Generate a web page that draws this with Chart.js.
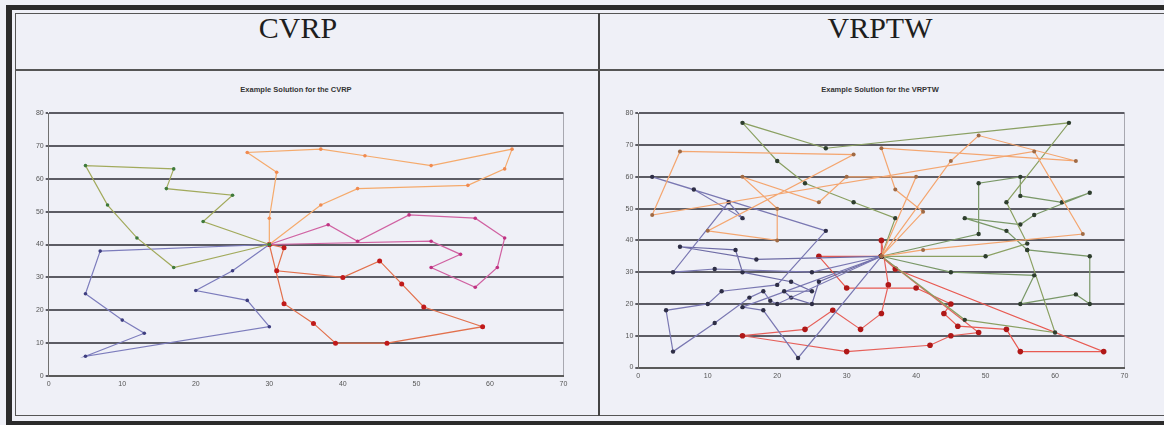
<!DOCTYPE html>
<html>
<head>
<meta charset="utf-8">
<script src="https://cdn.jsdelivr.net/npm/chart.js@4.4.1/dist/chart.umd.min.js"></script>
<style>
  html, body { margin: 0; padding: 0; }
  body { width: 1164px; height: 425px; background: #eff0f7; position: relative; overflow: hidden; }
  .line { position: absolute; background: #2b2b2b; }
  .head { position: absolute; font-family: 'Liberation Serif', serif; font-size: 30px; color: #1e1e1e; text-align: center; line-height: 30px; }
  .ctitle { position: absolute; font-family: 'Liberation Sans', Arial, sans-serif; font-weight: bold; font-size: 7.5px; color: #333; text-align: center; }
  canvas { position: absolute; }
</style>
</head>
<body>
<!-- table frame -->
<div class="line" style="left:6px; top:5px; width:1158px; height:5px;"></div>
<div class="line" style="left:15px; top:13px; width:1149px; height:1px; background:#555;"></div>
<div class="line" style="left:6px; top:5px; width:6px; height:420px;"></div>
<div class="line" style="left:15px; top:13px; width:1px; height:403px; background:#555;"></div>
<div class="line" style="left:15px; top:415px; width:1149px; height:1px; background:#555;"></div>
<div class="line" style="left:6px; top:421px; width:1158px; height:4px;"></div>
<div class="line" style="left:598px; top:13px; width:2px; height:403px; background:#444;"></div>
<div class="line" style="left:15px; top:69px; width:1149px; height:2px; background:#555;"></div>

<div class="head" style="left:200px; top:13px; width:196px;">CVRP</div>
<div class="head" style="left:780px; top:13px; width:200px;">VRPTW</div>
<div class="ctitle" style="left:196px; top:85px; width:200px;">Example Solution for the CVRP</div>
<div class="ctitle" style="left:780px; top:85px; width:200px;">Example Solution for the VRPTW</div>

<canvas id="cvrpChart" width="582" height="342" style="left:16px; top:72px;"></canvas>
<canvas id="vrptwChart" width="564" height="342" style="left:600px; top:72px;"></canvas>

<script>
// axis ticks
const yTicks = [0, 10, 20, 30, 40, 50, 60, 70, 80];
const xTicks = [0, 10, 20, 30, 40, 50, 60, 70];

// CVRP routes (depot at 30,40)
const cvrpGreen = [[30,40],[21,47],[25,55],[16,57],[17,63],[5,64],[8,52],[12,42],[17,33],[30,40]];
const cvrpBlue = [[30,40],[7,38],[5,25],[10,17],[13,13],[5,6],[30,15],[27,23],[20,26],[25,32],[30,40]];
const cvrpOrange = [[30,40],[30,48],[31,62],[27,68],[37,69],[43,67],[52,64],[63,69],[62,63],[57,58],[42,57],[37,52],[30,40]];
const cvrpPink = [[30,40],[38,46],[42,41],[49,49],[58,48],[62,42],[61,33],[58,27],[52,33],[56,37],[52,41],[30,40]];
const cvrpRed = [[30,40],[32,39],[31,32],[40,30],[45,35],[48,28],[51,21],[59,15],[46,10],[39,10],[36,16],[32,22],[30,40]];

// VRPTW routes (depot at 35,35)
const vrpOrange1 = [[35,35],[41,37],[64,42],[57,68],[2,48],[6,68],[31,67],[10,43],[20,40],[20,50],[15,60],[26,52],[30,60],[40,60],[35,35]];
const vrpOrange2 = [[35,35],[41,49],[37,56],[35,69],[63,65],[49,73],[45,65],[35,35]];
const vrpBlue1 = [[35,35],[25,30],[11,31],[5,30],[13,52],[15,47],[8,56],[2,60],[27,43],[20,26],[12,24],[10,20],[4,18],[5,5],[11,14],[16,22],[18,24],[19,21],[20,20],[35,35]];
const vrpBlue2 = [[35,35],[17,34],[6,38],[14,37],[15,30],[22,27],[25,24],[21,24],[22,22],[25,20],[26,27],[35,35]];
const vrpBlue3 = [[35,35],[15,19],[18,18],[23,3],[35,35]];
const vrpGreen1 = [[35,35],[37,47],[31,52],[24,58],[20,65],[15,77],[27,69],[62,77],[53,52],[56,39],[50,35],[35,35]];
const vrpGreen2 = [[35,35],[49,42],[49,58],[55,60],[55,54],[61,52],[65,55],[57,48],[55,45],[47,47],[53,43],[56,37],[65,35],[65,20],[63,23],[55,20],[57,29],[45,30],[35,35]];
const vrpGreen3 = [[35,35],[47,15],[60,11],[56,37]];
const vrpRed1 = [[35,35],[26,35],[30,25],[40,25],[45,20],[44,17],[46,13],[53,12],[55,5],[67,5],[37,31],[35,35]];
const vrpRed2 = [[35,35],[35,40],[36,26],[35,17],[32,12],[28,18],[24,12],[15,10],[30,5],[42,7],[45,10],[49,11],[35,35]];

function route(points, line, dot, radius) {
    return {
        data: points.map(p => ({ x: p[0], y: p[1] })),
        showLine: true,
        borderColor: line,
        borderWidth: 1.2,
        backgroundColor: dot,
        pointBorderColor: dot,
        pointRadius: radius,
        pointBorderWidth: 0,
        tension: 0
    };
}

function chartOptions(pad, yWidth) {
    const tickFont = { family: 'Liberation Sans', size: 7 };
    return {
        responsive: false,
        animation: false,
        layout: { padding: pad },
        plugins: { legend: { display: false }, tooltip: { enabled: false }, title: { display: false } },
        scales: {
            x: {
                type: 'linear',
                min: 0,
                max: 70,
                afterBuildTicks: s => { s.ticks = xTicks.map(v => ({ value: v })); },
                afterFit: s => { s.height = 18; },
                ticks: { font: tickFont, color: '#555', padding: 4 },
                grid: {
                    color: c => c.tick && c.tick.value === 70 ? '#a8a8b0' : 'rgba(0,0,0,0)',
                    lineWidth: 1,
                    tickLength: 0
                },
                border: { color: '#5a5a5a', width: 2 }
            },
            y: {
                type: 'linear',
                min: 0,
                max: 80,
                afterBuildTicks: s => { s.ticks = yTicks.map(v => ({ value: v })); },
                afterFit: s => { s.width = yWidth; },
                ticks: { font: tickFont, color: '#555', padding: 2 },
                grid: { color: '#5c5c64', lineWidth: 2, tickLength: 3 },
                border: { color: '#707070', width: 1 }
            }
        }
    };
}

new Chart(document.getElementById('cvrpChart').getContext('2d'), {
    type: 'scatter',
    data: {
        datasets: [
            route(cvrpGreen, '#a2aa5c', '#3f7a3a', 1.8),
            route(cvrpBlue, '#7c7cbc', '#3e3e80', 1.8),
            route(cvrpOrange, '#f5aa6c', '#f08a50', 1.8),
            route(cvrpPink, '#d062a2', '#c03282', 1.8),
            route(cvrpRed, '#e2704c', '#c01a1a', 2.5)
        ]
    },
    options: chartOptions({ left: 6.7, right: 34.5, top: 41, bottom: 20 }, 26)
});

new Chart(document.getElementById('vrptwChart').getContext('2d'), {
    type: 'scatter',
    data: {
        datasets: [
            route(vrpOrange1, '#f4a670', '#a06a44', 2),
            route(vrpOrange2, '#f4a670', '#a06a44', 2),
            route(vrpBlue1, '#7a78b2', '#2e2e46', 2.2),
            route(vrpBlue2, '#6e6ca6', '#2e2e46', 2.2),
            route(vrpBlue3, '#7a78b2', '#2e2e46', 2.2),
            route(vrpGreen1, '#8aa062', '#2e3e2e', 2.2),
            route(vrpGreen2, '#7a9868', '#2e3e2e', 2.2),
            route(vrpGreen3, '#8aa062', '#2e3e2e', 2.2),
            route(vrpRed1, '#e85a52', '#b01818', 2.8),
            route(vrpRed2, '#e6605a', '#b01818', 2.8)
        ]
    },
    options: chartOptions({ left: 8.3, right: 39.5, top: 41.3, bottom: 28.5 }, 30)
});
</script>
</body>
</html>
